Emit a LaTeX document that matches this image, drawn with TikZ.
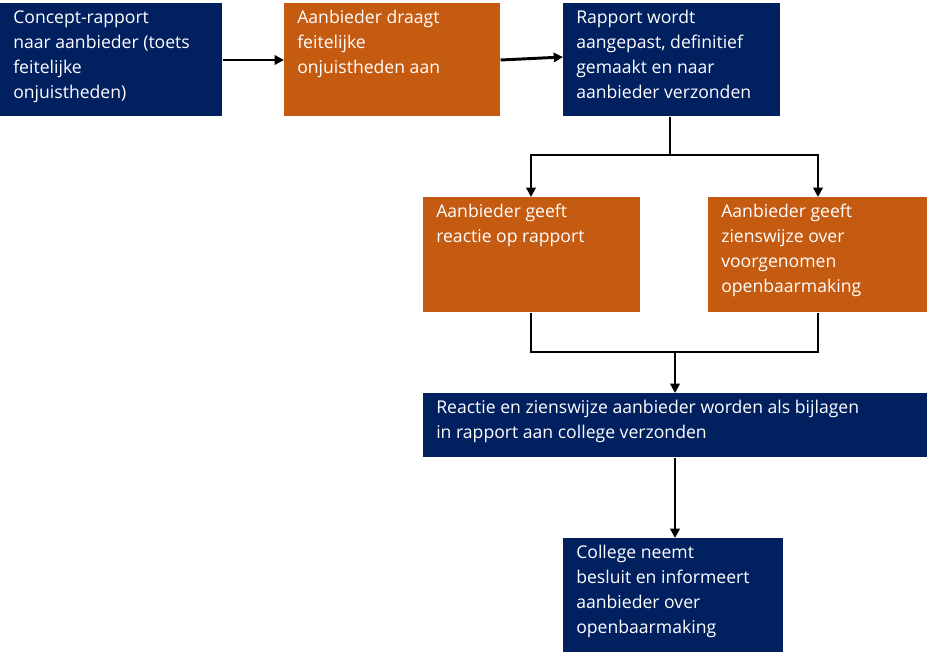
\documentclass[tikz,border=0pt]{standalone}
\usepackage{fontspec}
\setmainfont{Open Sans}
\usetikzlibrary{arrows.meta}
\definecolor{navy}{HTML}{002060}
\definecolor{rust}{HTML}{C55A11}
\begin{document}
\begin{tikzpicture}[x=0.75pt,y=-0.75pt,
  box/.style={draw=none,inner sep=0,anchor=north west},
  txt/.style={text=white,anchor=north west,inner sep=0,align=left,font=\fontsize{13.2}{18.8}\selectfont},
  con/.style={line width=2.2pt,black},
  arr/.style={con,-{Triangle[length=7pt,width=7pt]}}]
\useasboundingbox (0,0) rectangle (927,658);
\newcommand{\mybox}[7]{\node[box,fill=#6,minimum width=#3*0.75pt,minimum height=#4*0.75pt] (#5) at (#1,#2) {};
  \node[txt] (#5t) at (#1+13,#2+7) {#7};}
\mybox{0}{3}{222}{113}{a}{navy}{Concept-rapport\\naar aanbieder (toets\\feitelijke\\onjuistheden)}
\mybox{284}{3}{216}{113}{b}{rust}{Aanbieder draagt\\feitelijke\\onjuistheden aan}
\mybox{563}{3}{217}{113}{c}{navy}{Rapport wordt\\aangepast, definitief\\gemaakt en naar\\aanbieder verzonden}
\mybox{423}{197}{217}{115}{d}{rust}{Aanbieder geeft\\reactie op rapport}
\mybox{708}{197}{219}{115}{e}{rust}{Aanbieder geeft\\zienswijze over\\voorgenomen\\openbaarmaking}
\mybox{423}{393}{504}{64}{f}{navy}{Reactie en zienswijze aanbieder worden als bijlagen\\in rapport aan college verzonden}
\mybox{563}{538}{220}{114}{g}{navy}{College neemt\\besluit en informeert\\aanbieder over\\openbaarmaking}
\coordinate (cs) at (670,155);
\coordinate (ds) at (531,155);
\coordinate (es) at (818,155);
\coordinate (dj) at (531,352);
\coordinate (ej) at (818,352);
\coordinate (fj) at (675,352);
\draw[arr] (a.east |- 0,60) -- (b.west |- 0,60);
\draw[arr] (b.east |- 0,60) -- (c.west |- 0,57);
\draw[con] (c.south -| cs) -- (cs);
\draw[arr] (cs) -- (ds) -- (d.north -| ds);
\draw[arr] (cs) -- (es) -- (e.north -| es);
\draw[con] (d.south -| dj) -- (dj) -- (ej) -- (e.south -| ej);
\draw[arr] (fj) -- (f.north -| fj);
\draw[arr] (f.south -| fj) -- (g.north -| fj);
\end{tikzpicture}
\end{document}
